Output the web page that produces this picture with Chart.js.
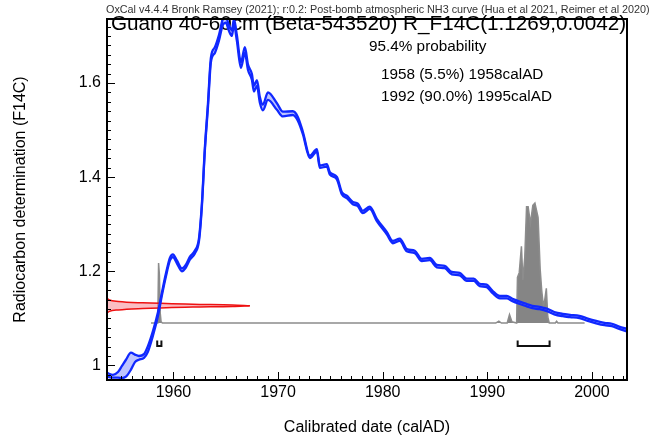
<!DOCTYPE html>
<html>
<head>
<meta charset="utf-8">
<script src="https://cdn.jsdelivr.net/npm/chart.js@4"></script>
<style>
  html, body { margin: 0; padding: 0; background: #fff; }
</style>
</head>
<body>
<canvas id="myChart" width="649" height="437"></canvas>
<script>
// calibration curve (post-bomb NH3), mean and half-width of the band
const calYear = [1953.65, 1954.22, 1954.70, 1955.08, 1955.46, 1955.94, 1956.32, 1956.70, 1957.18, 1957.56,
  1958.04, 1958.52, 1958.90, 1959.28, 1959.67, 1959.95, 1960.33, 1960.81, 1961.19, 1961.58,
  1962.05, 1962.44, 1962.72, 1963.00, 1963.30, 1963.58, 1963.96, 1964.35, 1964.73, 1965.01,
  1965.30, 1965.59, 1965.78, 1966.06, 1966.45, 1966.83, 1967.12, 1967.50, 1967.69, 1967.98,
  1968.26, 1968.55, 1969.03, 1969.89, 1970.46, 1971.41, 1971.89, 1972.37, 1973.04, 1973.71,
  1973.99, 1974.66, 1974.95, 1975.62, 1976.09, 1976.57, 1977.14, 1977.62, 1978.10, 1978.77,
  1979.44, 1980.39, 1980.97, 1981.63, 1982.30, 1983.07, 1983.74, 1984.50, 1985.17, 1985.93,
  1986.60, 1987.36, 1988.03, 1988.70, 1989.27, 1989.94, 1990.50, 1991.20, 1991.85, 1992.40,
  1993.10, 1993.76, 1994.30, 1995.00, 1995.70, 1996.40, 1997.20, 1997.90, 1998.80, 1999.60,
  2000.40, 2001.20, 2001.90, 2002.60, 2003.35];
const calMean = [0.980, 0.977, 0.980, 0.986, 0.994, 1.009, 1.015, 1.016, 1.020, 1.035,
  1.068, 1.109, 1.152, 1.192, 1.226, 1.233, 1.220, 1.203, 1.211, 1.228,
  1.241, 1.267, 1.341, 1.458, 1.553, 1.649, 1.670, 1.696, 1.730, 1.734,
  1.717, 1.706, 1.730, 1.696, 1.638, 1.670, 1.634, 1.613, 1.588, 1.600,
  1.564, 1.548, 1.572, 1.550, 1.534, 1.536, 1.524, 1.494, 1.443, 1.457,
  1.422, 1.425, 1.408, 1.398, 1.366, 1.358, 1.345, 1.341, 1.326, 1.335,
  1.309, 1.281, 1.262, 1.267, 1.245, 1.241, 1.224, 1.226, 1.211, 1.209,
  1.196, 1.194, 1.182, 1.182, 1.171, 1.169, 1.156, 1.145, 1.145, 1.139,
  1.133, 1.128, 1.124, 1.122, 1.118, 1.111, 1.107, 1.105, 1.103, 1.097,
  1.092, 1.088, 1.086, 1.080, 1.075];
const calErr = [0.004, 0.003, 0.006, 0.013, 0.018, 0.018, 0.008, 0.004, 0.004, 0.006,
  0.005, 0.004, 0.003, 0.003, 0.003, 0.003, 0.003, 0.003, 0.003, 0.003,
  0.003, 0.003, 0.003, 0.003, 0.004, 0.005, 0.006, 0.006, 0.006, 0.006,
  0.006, 0.006, 0.006, 0.006, 0.006, 0.006, 0.006, 0.006, 0.006, 0.006,
  0.006, 0.006, 0.008, 0.007, 0.005, 0.004, 0.004, 0.0025, 0.0025, 0.0025,
  0.0025, 0.0025, 0.0025, 0.0025, 0.0025, 0.0025, 0.0025, 0.0025, 0.0025, 0.0025,
  0.0025, 0.0025, 0.0025, 0.0025, 0.0025, 0.0025, 0.0025, 0.0025, 0.0025, 0.0025,
  0.0025, 0.0025, 0.0025, 0.0025, 0.0025, 0.0025, 0.0025, 0.0025, 0.0025, 0.0025,
  0.0025, 0.0025, 0.0025, 0.0025, 0.0025, 0.0025, 0.0025, 0.0025, 0.0025, 0.0025,
  0.0025, 0.0025, 0.0025, 0.0025, 0.0025];

// measured F14C (1.1269 +/- 0.0042), relative probability along the y axis
const redF14C = [1.1105, 1.1119, 1.1149, 1.1179, 1.1209, 1.1239, 1.1254, 1.1269, 1.1284, 1.1299, 1.1329, 1.1359, 1.1389, 1.1419, 1.1433];
const redProb = [0, 0.003, 0.017, 0.08, 0.25, 0.60, 0.88, 1.0, 0.88, 0.60, 0.25, 0.08, 0.017, 0.003, 0];

// calibrated date probability
const greyYear = [1957.85, 1958.50, 1958.58, 1958.66, 1958.74, 1958.82, 1958.95, 1990.80, 1991.10, 1991.35,
  1991.90, 1992.12, 1992.35, 1992.80, 1992.88, 1993.05, 1993.26, 1993.40, 1993.58, 1993.75,
  1993.90, 1994.12, 1994.35, 1994.55, 1994.85, 1995.05, 1995.20, 1995.36, 1995.50, 1995.64,
  1995.78, 1995.92, 1996.50, 1996.62, 1996.75, 1999.30];
const greyProb = [0, 0, 0.50, 0.40, 0.08, 0.01, 0, 0, 0.015, 0,
  0, 0.07, 0.01, 0, 0.38, 0.42, 0.64, 0.36, 0.55, 0.97,
  0.97, 0.83, 0.98, 1.0, 0.88, 0.45, 0.27, 0.14, 0.20, 0.29,
  0.05, 0, 0, 0.015, 0, 0];

// 95.4% ranges
const rangeFrom = [1958.45, 1992.90];
const rangeTo = [1958.85, 1995.95];

const xMajor = [1960, 1970, 1980, 1990, 2000];
const yMajor = [1, 1.2, 1.4, 1.6];

const xMin = 1953.65, xMax = 2003.35;
const yMin = 0.969, yMax = 1.736;
const redLen = 13.65;       // years of the red peak
const greyBase = 1.090, greyScale = 0.255;
const bracketLow = 1.041, bracketHigh = 1.053;

const FONT = "'Liberation Sans', Arial, Helvetica, sans-serif";
const BLUE = '#1028ff';
const RED = '#ee1111';

const lowerPts = calYear.map((x, i) => ({ x: x, y: calMean[i] - calErr[i] }));
const upperPts = calYear.map((x, i) => ({ x: x, y: calMean[i] + calErr[i] }));

// red peak split into its lower and upper edge, both running left to right
const mid = redProb.indexOf(1);
const redPt = i => ({ x: xMin + redProb[i] * redLen, y: redF14C[i] });
const redLower = [];
const redUpper = [];
for (let i = 0; i <= mid; i++) redLower.push(redPt(i));
for (let i = redF14C.length - 1; i >= mid; i--) redUpper.push(redPt(i));

const greyPts = greyYear.map((x, i) => ({ x: x, y: greyBase + greyProb[i] * greyScale }));

const brackets = rangeFrom.map((f, i) => ({
    data: [{ x: f, y: bracketHigh }, { x: f, y: bracketLow }, { x: rangeTo[i], y: bracketLow }, { x: rangeTo[i], y: bracketHigh }],
    borderColor: '#111',
    borderWidth: 2,
    pointRadius: 0,
    tension: 0,
    fill: false
}));

// texts + frame + inward ticks
const decor = {
    id: 'decor',
    beforeDatasetsDraw(chart) {
        const ctx = chart.ctx;
        ctx.save();
        ctx.fillStyle = '#000';
        ctx.textBaseline = 'alphabetic';
        ctx.font = '20.7px ' + FONT;
        ctx.fillText('Guano 40-60cm (Beta-543520) R_F14C(1.1269,0.0042)', 111, 30);
        ctx.font = '15.3px ' + FONT;
        ctx.fillText('95.4% probability', 369, 51);
        ctx.fillText('1958 (5.5%) 1958calAD', 381, 79);
        ctx.fillText('1992 (90.0%) 1995calAD', 381, 101);
        ctx.restore();
    },
    afterDraw(chart) {
        const { ctx, chartArea: a, scales: { x, y } } = chart;
        ctx.save();
        // header
        ctx.fillStyle = '#333';
        ctx.font = '10.8px ' + FONT;
        ctx.textBaseline = 'alphabetic';
        ctx.fillText('OxCal v4.4.4 Bronk Ramsey (2021); r:0.2: Post-bomb atmospheric NH3 curve (Hua et al 2021, Reimer et al 2020)', 106, 13);
        ctx.strokeStyle = '#000';
        ctx.lineWidth = 1;
        ctx.beginPath();
        x.ticks.forEach(t => {
            const px = Math.round(x.getPixelForValue(t.value)) + 0.5;
            const len = t.label ? 8 : 4;
            ctx.moveTo(px, a.bottom);
            ctx.lineTo(px, a.bottom - len);
        });
        y.ticks.forEach(t => {
            const py = Math.round(y.getPixelForValue(t.value)) + 0.5;
            const len = t.label ? 8 : 4;
            ctx.moveTo(a.left, py);
            ctx.lineTo(a.left + len, py);
        });
        ctx.stroke();
        ctx.lineWidth = 2;
        ctx.strokeRect(a.left, a.top, a.right - a.left, a.bottom - a.top);
        ctx.restore();
    }
};

const ctx = document.getElementById('myChart').getContext('2d');
new Chart(ctx, {
    type: 'line',
    data: {
        datasets: [
            { data: lowerPts, borderColor: BLUE, borderWidth: 2.3, pointRadius: 0, cubicInterpolationMode: 'monotone', fill: false },
            { data: upperPts, borderColor: BLUE, borderWidth: 2.3, pointRadius: 0, cubicInterpolationMode: 'monotone',
              fill: '-1', backgroundColor: 'rgba(110,125,255,0.45)' },
            brackets[0],
            brackets[1],
            { data: redLower, borderColor: RED, borderWidth: 1.5, pointRadius: 0, cubicInterpolationMode: 'monotone', fill: false },
            { data: redUpper, borderColor: RED, borderWidth: 1.5, pointRadius: 0, cubicInterpolationMode: 'monotone',
              fill: '-1', backgroundColor: 'rgba(245,110,125,0.45)' },
            { data: greyPts, borderColor: '#8c8c8c', borderWidth: 1.5, pointRadius: 0, tension: 0,
              fill: { value: greyBase }, backgroundColor: '#858585' }
        ]
    },
    options: {
        responsive: false,
        animation: false,
        events: [],
        layout: { padding: { left: 0, top: 19, right: 22, bottom: 0 } },
        plugins: { legend: { display: false }, tooltip: { enabled: false } },
        scales: {
            x: {
                type: 'linear',
                min: xMin,
                max: xMax,
                grid: { display: false, drawTicks: false },
                border: { display: false },
                afterFit: s => { s.height = 57; },
                ticks: {
                    stepSize: 1,
                    autoSkip: false,
                    includeBounds: false,
                    maxRotation: 0,
                    padding: 3,
                    color: '#000',
                    font: { family: FONT, size: 16 },
                    callback: v => xMajor.some(m => Math.abs(m - v) < 1e-6) ? String(Math.round(v)) : ''
                },
                title: { display: true, text: 'Calibrated date (calAD)', color: '#000',
                         font: { family: FONT, size: 16 }, padding: { top: 0, bottom: 0 } }
            },
            y: {
                type: 'linear',
                min: yMin,
                max: yMax,
                grid: { display: false, drawTicks: false },
                border: { display: false },
                afterFit: s => { s.width = 107; },
                ticks: {
                    stepSize: 0.02,
                    autoSkip: false,
                    includeBounds: false,
                    padding: 6,
                    color: '#000',
                    font: { family: FONT, size: 16 },
                    callback: v => {
                        const m = yMajor.find(t => Math.abs(t - v) < 1e-6);
                        return m === undefined ? '' : String(m);
                    }
                },
                title: { display: true, text: 'Radiocarbon determination (F14C)', color: '#000',
                         font: { family: FONT, size: 16 }, padding: { top: 11, bottom: 0 } }
            }
        }
    },
    plugins: [decor]
});
</script>
</body>
</html>
